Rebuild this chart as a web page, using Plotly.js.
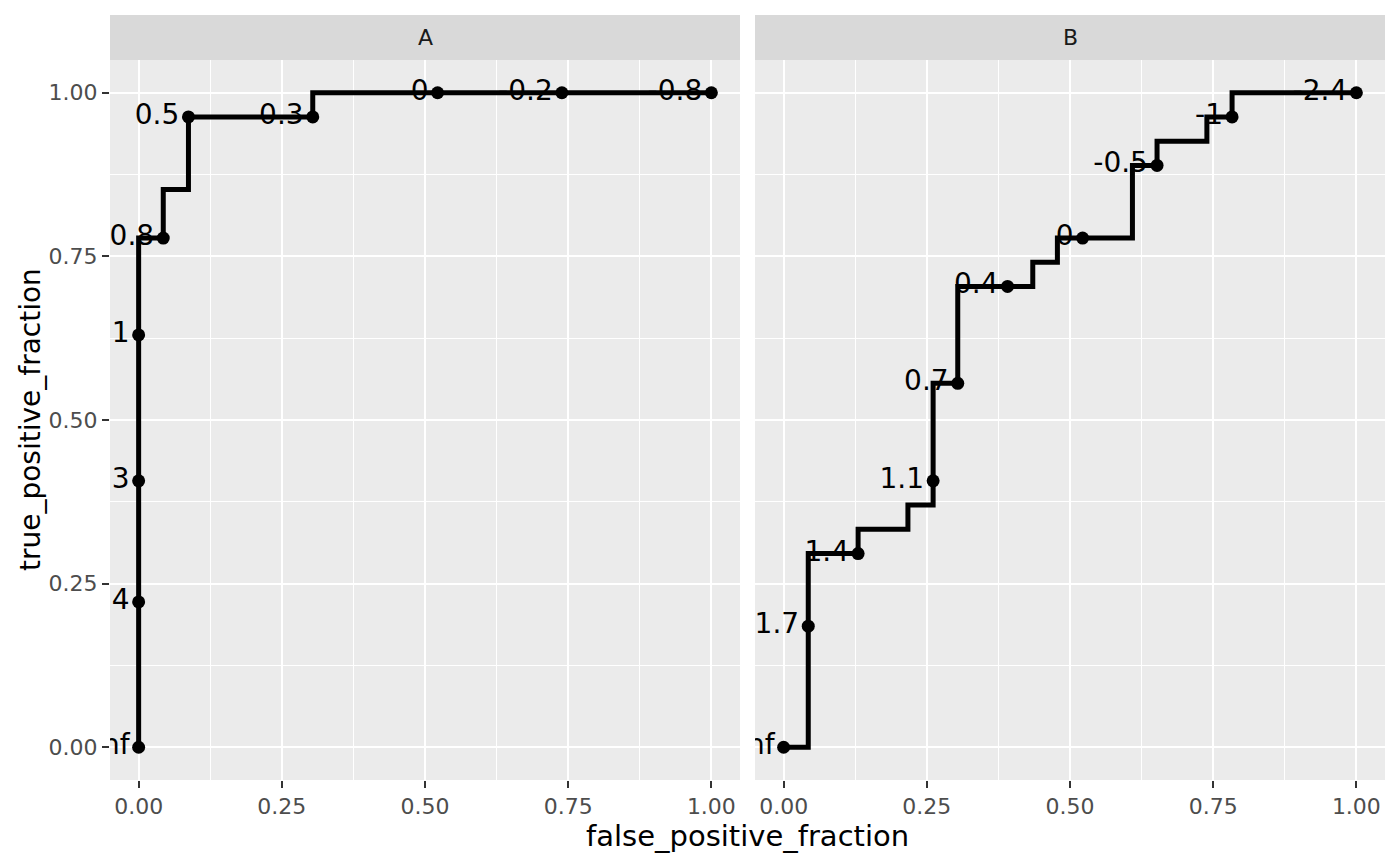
<!DOCTYPE html>
<html>
<head>
<meta charset="utf-8">
<script src="https://cdn.plot.ly/plotly-3.0.1.min.js"></script>
<style>html,body{margin:0;padding:0;background:#fff;}#chart{width:1400px;height:866px;}</style>
</head>
<body>
<div id="chart"></div>
<script>
// Panel names
const panels = ["A", "B"];

// Panel A: ROC step path
const lineA_fpf = [0, 0, 0.043, 0.043, 0.087, 0.087, 0.304, 0.304, 1];
const lineA_tpf = [0, 0.778, 0.778, 0.852, 0.852, 0.963, 0.963, 1, 1];
// Panel A: labelled cutoffs
const ptsA_fpf = [0, 0, 0, 0, 0.043, 0.087, 0.304, 0.522, 0.739, 1];
const ptsA_tpf = [0, 0.222, 0.407, 0.630, 0.778, 0.963, 0.963, 1, 1, 1];
const ptsA_lab = ["Inf", "4", "3", "1", "0.8", "0.5", "0.3", "0", "-0.2", "-0.8"];

// Panel B: ROC step path
const lineB_fpf = [0, 0.043, 0.043, 0.130, 0.130, 0.217, 0.217, 0.261, 0.261, 0.304, 0.304, 0.435, 0.435, 0.478, 0.478, 0.609, 0.609, 0.652, 0.652, 0.739, 0.739, 0.783, 0.783, 1];
const lineB_tpf = [0, 0, 0.296, 0.296, 0.333, 0.333, 0.370, 0.370, 0.556, 0.556, 0.704, 0.704, 0.741, 0.741, 0.778, 0.778, 0.889, 0.889, 0.926, 0.926, 0.963, 0.963, 1, 1];
// Panel B: labelled cutoffs
const ptsB_fpf = [0, 0.043, 0.130, 0.261, 0.304, 0.391, 0.522, 0.652, 0.783, 1];
const ptsB_tpf = [0, 0.185, 0.296, 0.407, 0.556, 0.704, 0.778, 0.889, 0.963, 1];
const ptsB_lab = ["Inf", "1.7", "1.4", "1.1", "0.7", "0.4", "0", "-0.5", "-1", "-2.4"];

const tickVals = [0, 0.25, 0.5, 0.75, 1];
const tickText = ["0.00", "0.25", "0.50", "0.75", "1.00"];
const minorVals = [0.125, 0.375, 0.625, 0.875];

const FONT = "DejaVu Sans, Noto Sans, sans-serif";
const LW = 5;
const MS = 13;
const LABEL_SIZE = 28;

function lineTrace(x, y, xa) {
  return {x: x, y: y, xaxis: xa, yaxis: "y", type: "scatter", mode: "lines",
          line: {color: "#000", width: LW}, hoverinfo: "skip", showlegend: false};
}
function ptTrace(x, y, t, xa) {
  return {x: x, y: y, text: t, xaxis: xa, yaxis: "y", type: "scatter", mode: "markers+text",
          textposition: "middle left", cliponaxis: true,
          textfont: {family: FONT, size: LABEL_SIZE, color: "#000"},
          marker: {color: "#000", size: MS}, showlegend: false};
}

const data = [
  lineTrace(lineA_fpf, lineA_tpf, "x"),
  ptTrace(ptsA_fpf, ptsA_tpf, ptsA_lab, "x"),
  lineTrace(lineB_fpf, lineB_tpf, "x2"),
  ptTrace(ptsB_fpf, ptsB_tpf, ptsB_lab, "x2")
];

const W = 1400, H = 866;
const L = 110, R = 15, T = 60, B = 86;
const plotW = W - L - R;
const plotH = H - T - B;
const gap = 15;
const panelW = (plotW - gap) / 2;
const domA = [0, panelW / plotW];
const domB = [(panelW + gap) / plotW, 1];
const stripH = 45;

function axisBase() {
  return {
    range: [-0.05, 1.05], tickvals: tickVals, ticktext: tickText,
    showgrid: true, gridcolor: "#FFFFFF", gridwidth: 2,
    minor: {tickvals: minorVals, showgrid: true, gridcolor: "#FFFFFF", gridwidth: 1, ticks: ""},
    zeroline: false, showline: false,
    ticks: "outside", ticklen: 7, tickwidth: 2, tickcolor: "#333333",
    tickfont: {family: FONT, size: 22, color: "#4D4D4D"}, fixedrange: true
  };
}
function xAxis(dom) {
  const a = axisBase();
  a.domain = dom; a.anchor = "y";
  return a;
}
const yAxis = axisBase();

const layout = {
  width: W, height: H,
  margin: {l: L, r: R, t: T, b: B},
  paper_bgcolor: "#FFFFFF", plot_bgcolor: "#EBEBEB",
  font: {family: FONT},
  xaxis: xAxis(domA),
  xaxis2: xAxis(domB),
  yaxis: yAxis,
  shapes: [
    {type: "rect", xref: "paper", yref: "paper", x0: domA[0], x1: domA[1], y0: 1, y1: 1 + stripH / plotH,
     fillcolor: "#D9D9D9", line: {width: 0}},
    {type: "rect", xref: "paper", yref: "paper", x0: domB[0], x1: domB[1], y0: 1, y1: 1 + stripH / plotH,
     fillcolor: "#D9D9D9", line: {width: 0}}
  ],
  annotations: [
    {text: panels[0], xref: "paper", yref: "paper", x: (domA[0] + domA[1]) / 2, y: 1 + stripH / 2 / plotH,
     showarrow: false, font: {family: FONT, size: 22, color: "#1A1A1A"}, xanchor: "center", yanchor: "middle"},
    {text: panels[1], xref: "paper", yref: "paper", x: (domB[0] + domB[1]) / 2, y: 1 + stripH / 2 / plotH,
     showarrow: false, font: {family: FONT, size: 22, color: "#1A1A1A"}, xanchor: "center", yanchor: "middle"},
    {text: "false_positive_fraction", xref: "paper", yref: "paper", x: 0.5, y: -(836 - (T + plotH)) / plotH,
     showarrow: false, font: {family: FONT, size: 29, color: "#000"}, xanchor: "center", yanchor: "middle"},
    {text: "true_positive_fraction", xref: "paper", yref: "paper", x: -(L - 30) / plotW, y: 0.5,
     textangle: -90, showarrow: false, font: {family: FONT, size: 28, color: "#000"}, xanchor: "center", yanchor: "middle"}
  ]
};

Plotly.newPlot("chart", data, layout, {displayModeBar: false, staticPlot: true});
</script>
</body>
</html>
